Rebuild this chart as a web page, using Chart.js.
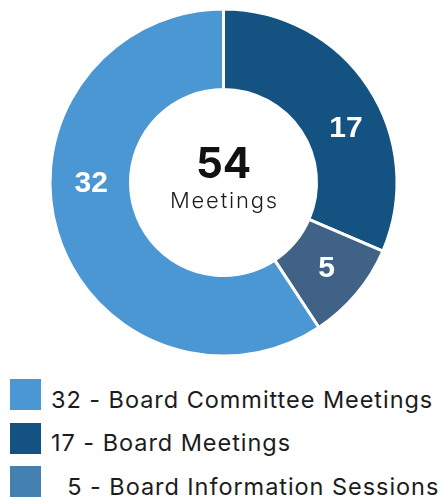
<!DOCTYPE html>
<html>
<head>
<meta charset="utf-8">
<script src="https://cdn.jsdelivr.net/npm/chart.js"></script>
<style>
  html, body { margin: 0; padding: 0; background: #fff; overflow: hidden; }
  body { width: 440px; height: 497px; position: relative; font-family: "Inter", sans-serif; }
  #chart { position: absolute; left: 0; top: 0; }
  #legend { position: absolute; left: 10px; top: 379px; }
  .item { display: flex; height: 31px; margin-bottom: 12.5px; }
  .box { width: 31px; height: 31px; flex: none; }
  .label { margin-left: 10px; font-size: 23.5px; line-height: 31px; letter-spacing: 0.95px; color: #1c1c1c; position: relative; top: 4.5px; white-space: pre; }
</style>
</head>
<body>
<canvas id="chart" width="440" height="365"></canvas>
<div id="legend"></div>
<script>
// slices go clockwise from 12 o'clock
const categories = ["Board Meetings", "Board Information Sessions", "Board Committee Meetings"];
const meetingCounts = [17, 5, 32];
const sliceColors = ["#145381", "#416287", "#4a97d3"];
const legendColors = ["#145381", "#4581b0", "#4a97d3"];
const legendOrder = [2, 0, 1];
const centerLabel = "Meetings";

// where along each arc its number sits (0 = start, 1 = end)
const labelSpots = [0.58, 0.5, 0.578];

const sliceLabels = {
    id: "sliceLabels",
    afterDatasetsDraw(chart) {
        const ctx = chart.ctx;
        const meta = chart.getDatasetMeta(0);
        ctx.save();
        ctx.textAlign = "center";
        ctx.textBaseline = "middle";
        ctx.fillStyle = "#ffffff";
        ctx.font = 'bold 30px "Liberation Sans"';
        meta.data.forEach((arc, i) => {
            const p = arc.getProps(["x", "y", "startAngle", "endAngle", "innerRadius", "outerRadius"], true);
            const a = p.startAngle + (p.endAngle - p.startAngle) * labelSpots[i];
            const r = (p.innerRadius + p.outerRadius) / 2;
            ctx.fillText(String(meetingCounts[i]), p.x + Math.cos(a) * r + 1, p.y + Math.sin(a) * r + 1);
        });

        // total in the hole
        const cx = meta.data[0].x;
        const cy = meta.data[0].y;
        const total = meetingCounts.reduce((s, v) => s + v, 0);
        ctx.textBaseline = "alphabetic";
        ctx.fillStyle = "#111111";
        ctx.font = 'bold 42px "Inter"';
        ctx.fillText(String(total), cx, cy - 4.5);
        ctx.font = '300 22px "Inter"';
        ctx.letterSpacing = "1.8px";
        ctx.fillStyle = "#1c1c1c";
        ctx.fillText(centerLabel, cx + 0.9, cy + 25);
        ctx.restore();
    }
};

const chart = new Chart(document.getElementById("chart"), {
    type: "doughnut",
    data: {
        labels: categories,
        datasets: [{
            data: meetingCounts,
            backgroundColor: sliceColors,
            borderColor: "#ffffff",
            borderWidth: 3,
            hoverOffset: 0,
        }]
    },
    options: {
        responsive: false,
        animation: false,
        radius: 173.5,
        cutout: "53.6%",
        layout: { padding: { left: 7, right: 0, top: 0, bottom: 0 } },
        plugins: {
            legend: { display: false },
            tooltip: { enabled: false },
        },
    },
    plugins: [sliceLabels],
});

// legend built from the same arrays
const legendEl = document.getElementById("legend");
legendOrder.forEach((i) => {
    const row = document.createElement("div");
    row.className = "item";
    const box = document.createElement("div");
    box.className = "box";
    box.style.background = legendColors[i];
    const text = document.createElement("div");
    text.className = "label";
    text.textContent = String(meetingCounts[i]).padStart(2, "\u2007") + " - " + categories[i];
    row.appendChild(box);
    row.appendChild(text);
    legendEl.appendChild(row);
});
</script>
</body>
</html>
